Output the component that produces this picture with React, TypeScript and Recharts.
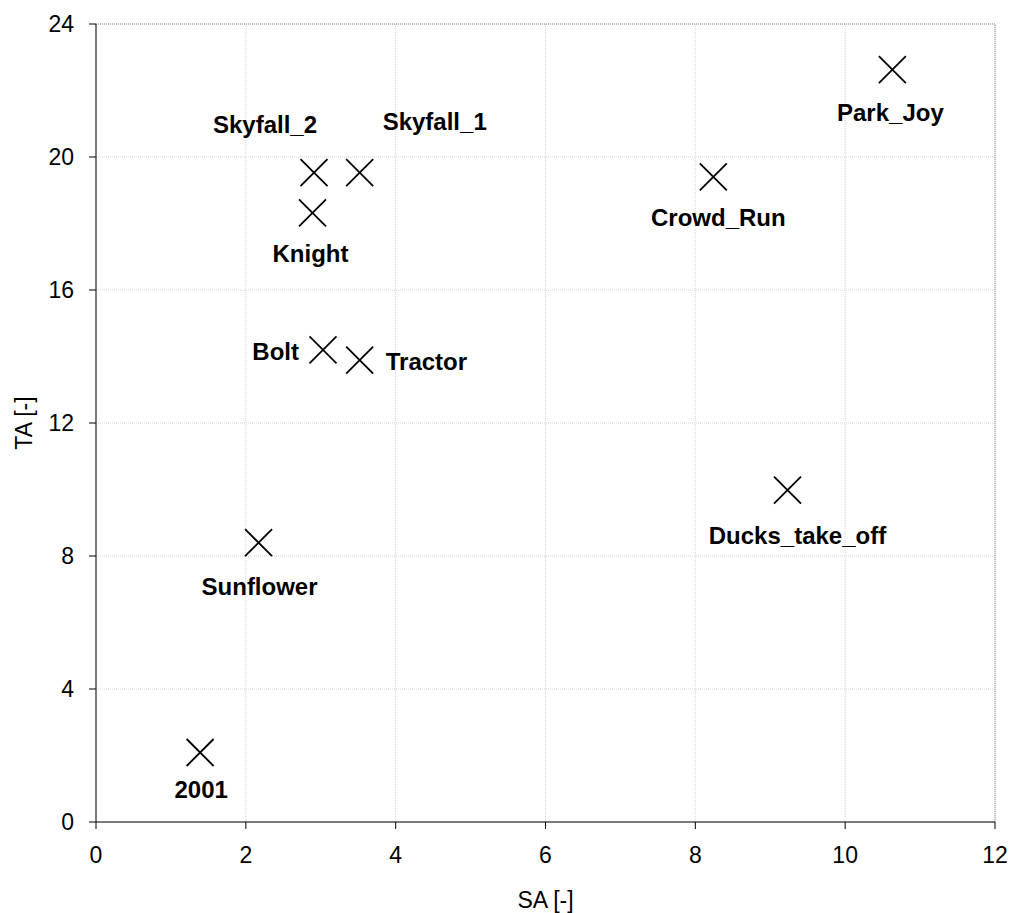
import React from 'react';
import {
  ScatterChart,
  Scatter,
  XAxis,
  YAxis,
  CartesianGrid,
  ReferenceLine,
} from 'recharts';

const sequences = [
  'Park_Joy',
  'Skyfall_2',
  'Skyfall_1',
  'Knight',
  'Crowd_Run',
  'Bolt',
  'Tractor',
  'Sunflower',
  'Ducks_take_off',
  '2001',
];
const saValues = [10.63, 2.91, 3.52, 2.89, 8.24, 3.03, 3.52, 2.17, 9.23, 1.39];
const taValues = [22.63, 19.53, 19.53, 18.32, 19.4, 14.2, 13.89, 8.4, 9.98, 2.09];

const xTicks = [0, 2, 4, 6, 8, 10, 12];
const yTicks = [0, 4, 8, 12, 16, 20, 24];

// where each name sits relative to its marker
const labelPlacement: Record<string, { dx: number; dy: number; anchor: 'start' | 'middle' | 'end' }> = {
  Park_Joy: { dx: -2, dy: 43, anchor: 'middle' },
  Skyfall_2: { dx: -49, dy: -48, anchor: 'middle' },
  Skyfall_1: { dx: 75, dy: -51, anchor: 'middle' },
  Knight: { dx: -2, dy: 41, anchor: 'middle' },
  Crowd_Run: { dx: 5, dy: 41, anchor: 'middle' },
  Bolt: { dx: -24, dy: 2, anchor: 'end' },
  Tractor: { dx: 26, dy: 1, anchor: 'start' },
  Sunflower: { dx: 1, dy: 44, anchor: 'middle' },
  Ducks_take_off: { dx: 10, dy: 45, anchor: 'middle' },
  '2001': { dx: 1, dy: 37, anchor: 'middle' },
};

const points = sequences.map((name, i) => ({ name, sa: saValues[i], ta: taValues[i] }));

const FONT = 'Arial, "Liberation Sans", sans-serif';

const CrossMarker = (props: any) => {
  const { cx, cy, payload } = props;
  const r = 13.5;
  const place = labelPlacement[payload.name];
  return (
    <g>
      <line x1={cx - r} y1={cy - r} x2={cx + r} y2={cy + r} stroke="#000" strokeWidth={1.8} />
      <line x1={cx - r} y1={cy + r} x2={cx + r} y2={cy - r} stroke="#000" strokeWidth={1.8} />
      <text
        x={cx + place.dx}
        y={cy + place.dy}
        textAnchor={place.anchor}
        dominantBaseline="central"
        fontFamily={FONT}
        fontSize={24}
        fontWeight="bold"
        fill="#000"
      >
        {payload.name}
      </text>
    </g>
  );
};

export default function App() {
  const tickStyle = { fontFamily: FONT, fontSize: 23, fill: '#000' };
  return (
    <div style={{ position: 'absolute', left: 0, top: 0, background: '#fff' }}>
      <ScatterChart width={1011} height={913} margin={{ top: 24, right: 16, bottom: 0, left: 0 }}>
        <CartesianGrid stroke="#d4d4d4" strokeDasharray="1 1" />
        <XAxis
          type="number"
          dataKey="sa"
          domain={[0, 12]}
          ticks={xTicks}
          height={91}
          tickSize={7}
          tickMargin={18}
          axisLine={{ stroke: '#000' }}
          tickLine={{ stroke: '#000' }}
          tick={tickStyle}
          label={{
            value: 'SA [-]',
            position: 'insideBottom',
            offset: 5,
            style: { fontFamily: FONT, fontSize: 23, fill: '#000' },
          }}
        />
        <YAxis
          type="number"
          dataKey="ta"
          domain={[0, 24]}
          ticks={yTicks}
          width={96}
          tickSize={7}
          tickMargin={15}
          axisLine={{ stroke: '#000' }}
          tickLine={{ stroke: '#000' }}
          tick={tickStyle}
          label={{
            value: 'TA [-]',
            angle: -90,
            position: 'insideLeft',
            offset: 24,
            style: { fontFamily: FONT, fontSize: 23, fill: '#000', textAnchor: 'middle' },
          }}
        />
        <ReferenceLine y={24} stroke="#8a8a8a" strokeDasharray="1 1" />
        <ReferenceLine x={12} stroke="#8a8a8a" strokeDasharray="1 1" />
        <Scatter data={points} shape={<CrossMarker />} isAnimationActive={false} />
      </ScatterChart>
    </div>
  );
}
